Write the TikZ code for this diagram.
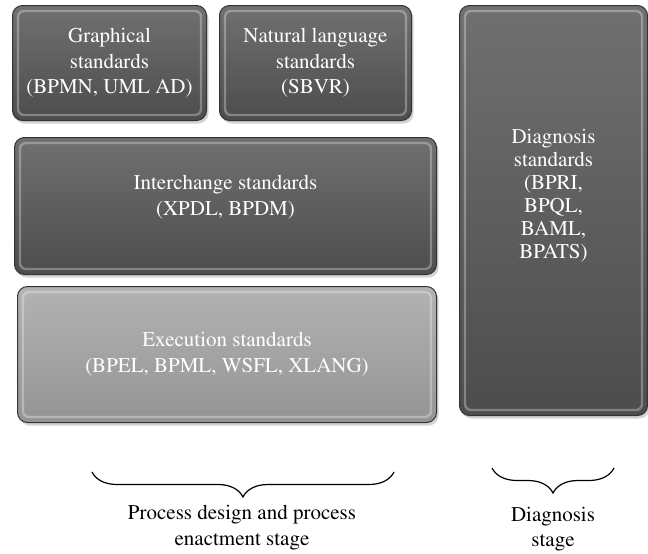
\documentclass[tikz,border=0pt]{standalone}
\usepackage[T1]{fontenc}
\usepackage{mathptmx}
\usetikzlibrary{positioning, shadows, decorations.pathreplacing}

\tikzset{
  box/.style={rounded corners=5pt, draw=black!80, line width=0.5pt,
    top color=black!56, bottom color=black!70, inner sep=0pt,
    drop shadow={opacity=0.35, shadow xshift=1pt, shadow yshift=-1.5pt},
    text=white, align=center, font=\fontsize{10.5}{12.8}\selectfont},
  lightbox/.style={box, top color=black!30, bottom color=black!42},
  boxtext/.style={text=white, align=center, font=\fontsize{10.5}{12.8}\selectfont},
  bevel/.style={draw=white, opacity=0.3, line width=1.2pt, rounded corners=3pt},
  stage/.style={align=center, font=\fontsize{10.5}{12.8}\selectfont},
  curly/.style={decorate, decoration={brace, amplitude=12.5pt}, line width=0.6pt}
}

\begin{document}
\begin{tikzpicture}
  \useasboundingbox (0,0) rectangle (324pt,-276.5pt);
  % standards
  \node[box, minimum width=97pt, minimum height=57.5pt, anchor=north west] (graph) at (6pt,-2.5pt) {Graphical\\standards\\(BPMN, UML AD)};
  \node[box, minimum width=96pt, minimum height=57.5pt, right=6pt of graph] (natural) {Natural language\\standards\\(SBVR)};
  \node[box, minimum width=211pt, minimum height=68.5pt, below right=8pt and 1pt of graph.south west,
        label={[boxtext, yshift=4.5pt]center:Interchange standards\\(XPDL, BPDM)}] (inter) {};
  \node[lightbox, minimum width=209.5pt, minimum height=68pt, below right=5.5pt and 1.5pt of inter.south west] (exec) {Execution standards\\(BPEL, BPML, WSFL, XLANG)};
  \node[box, minimum width=94pt, minimum height=205pt, below right=0pt and 23.5pt of natural.north east,
        label={[boxtext, font=\fontsize{10.5}{11.5}\selectfont, yshift=7.5pt]center:Diagnosis\\standards\\(BPRI,\\BPQL,\\BAML,\\BPATS)}] (diag) {};
  \foreach \n in {graph, natural, inter, exec, diag}
    \draw[bevel] ([shift={(3pt,-3pt)}]\n.north west) rectangle ([shift={(-3pt,3pt)}]\n.south east);
  % stages
  \coordinate (pl) at (46pt,-236pt);
  \coordinate (pr) at (197pt,-236pt);
  \coordinate (dl) at (246pt,-234pt);
  \coordinate (dr) at (307pt,-234pt);
  \draw[curly] (pr) -- (pl);
  \draw[curly] (dr) -- (dl);
  \node[stage] (design) at (121pt,-263.8pt) {Process design and process\\enactment stage};
  \node[stage] (diagst) at (276.5pt,-264.5pt) {Diagnosis\\stage};
\end{tikzpicture}
\end{document}
